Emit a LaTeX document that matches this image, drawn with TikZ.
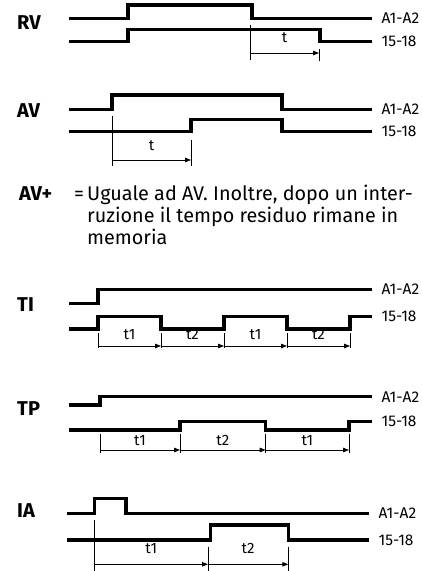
\documentclass[tikz,border=0pt]{standalone}
\usepackage{fontspec}
\setmainfont{Fira Sans}
\usetikzlibrary{arrows.meta}

\tikzset{
    sig/.style={line width=3.2pt},
    tick/.style={line width=0.9pt},
    tarr/.style={line width=0.9pt, -{Triangle[length=6pt,width=4.5pt]}},
    lbl/.style={anchor=west, inner sep=0pt, xshift=8pt, font=\fontsize{15.5}{15.5}\selectfont},
    mode/.style={anchor=base west, inner sep=0pt, font=\fontsize{20}{20}\selectfont\bfseries},
    tlbl/.style={midway, above=4pt, inner sep=0pt, font=\fontsize{15}{15}\selectfont},
    note/.style={anchor=base west, inner sep=0pt, font=\fontsize{19.8}{19.8}\selectfont}
}

\begin{document}
\begin{tikzpicture}[x=1pt, y=-1pt]
    \useasboundingbox (0,0) rectangle (421,571);

    % RV
    \node[mode] (rv) at (17,29) {RV};
    \draw[sig] (69,18.3) -- (128,18.3) -- (128,5) -- (252,5) -- (252,18.3) -- (372,18.3)
        node[lbl] (rva) {A1-A2};
    \draw[sig] (69,41.7) -- (128,41.7) -- (128,29.3) -- (320,29.3) -- (320,41.7) -- (372,41.7)
        node[lbl] (rvb) {15-18};
    \coordinate (rv0) at (250,53);
    \coordinate (rv1) at (319,53);
    \draw[tick] (250,25) -- (250,60);
    \draw[tick] (319,49) -- (319,61);
    \draw[tarr] (rv0) -- (rv1) node[tlbl, above=6pt] (rvt) {t};

    % AV
    \node[mode] (av) at (17,117) {AV};
    \draw[sig] (69,109.3) -- (112,109.3) -- (112,95) -- (282,95) -- (282,109.3) -- (372,109.3)
        node[lbl] (ava) {A1-A2};
    \draw[sig] (69,131.7) -- (191,131.7) -- (191,119.3) -- (282,119.3) -- (282,131.7) -- (372,131.7)
        node[lbl] (avb) {15-18};
    \coordinate (av0) at (112,160);
    \coordinate (av1) at (191,160);
    \draw[tick] (112,116) -- (112,166);
    \draw[tick] (191,140) -- (191,166);
    \draw[tarr] (av0) -- (av1) node[tlbl, above=5pt] (avt) {t};

    % AV+
    \node[mode] (avp) at (19,200.5) {AV+};
    \node[note] (eq) at (74,200.5) {=};
    \node[note] (avtx1) at (87,200.5) {Uguale ad AV. Inoltre, dopo un inter-};
    \node[note] (avtx2) at (87,222.7) {ruzione il tempo residuo rimane in};
    \node[note] (avtx3) at (87,244.5) {memoria};

    % TI
    \node[mode] (ti) at (17,311) {TI};
    \draw[sig] (69,303.3) -- (98,303.3) -- (98,289.3) -- (372,289.3)
        node[lbl] (tia) {A1-A2};
    \draw[sig] (69,329) -- (98,329) -- (98,316.7) -- (161,316.7) -- (161,329) -- (224,329)
        -- (224,316.7) -- (287,316.7) -- (287,329) -- (350,329) -- (350,316.7) -- (372,316.7)
        node[lbl] (tib) {15-18};
    \foreach \n/\x in {0/98,1/161,2/224,3/287,4/350} {
        \coordinate (ti\n) at (\x,346);
        \draw[tick] (\x,333) -- (\x,348);
    }
    \foreach \a/\b/\t in {0/1/t1,1/2/t2,2/3/t1,3/4/t2}
        \draw[tarr] (ti\a) -- (ti\b) node[tlbl, above=2pt] (tit\a) {\t};

    % TP
    \node[mode] (tp) at (17,415) {TP};
    \draw[sig] (69,405) -- (100,405) -- (100,396.7) -- (372,396.7)
        node[lbl] (tpa) {A1-A2};
    \draw[sig] (69,430) -- (180,430) -- (180,421.7) -- (265.7,421.7) -- (265.7,430)
        -- (349,430) -- (349,421.7) -- (372,421.7)
        node[lbl] (tpb) {15-18};
    \foreach \n/\x in {0/100,1/180,2/265.7,3/349} {
        \coordinate (tp\n) at (\x,450);
        \draw[tick] (\x,434) -- (\x,452.7);
    }
    \foreach \a/\b/\t in {0/1/t1,1/2/t2,2/3/t1}
        \draw[tarr] (tp\a) -- (tp\b) node[tlbl] (tpt\a) {\t};

    % IA
    \node[mode] (ia) at (17,517) {IA};
    \draw[sig] (67,513.3) -- (94.5,513.3) -- (94.5,498.3) -- (126,498.3) -- (126,513.3) -- (369,513.3)
        node[lbl] (iaa) {A1-A2};
    \draw[sig] (67,540) -- (210.7,540) -- (210.7,525) -- (288.3,525) -- (288.3,540) -- (369,540)
        node[lbl] (iab) {15-18};
    \coordinate (ia0) at (94.5,564.3);
    \coordinate (ia1) at (208,564.3);
    \coordinate (ia2) at (288.3,564.3);
    \draw[tick] (94.5,520) -- (94.5,571);
    \draw[tick] (208,547) -- (208,571);
    \draw[tick] (288.3,547) -- (288.3,571);
    \draw[tarr] (ia0) -- (ia1) node[tlbl, above=6pt] (iat1) {t1};
    \draw[tarr] (ia1) -- (ia2) node[tlbl, above=6pt] (iat2) {t2};
\end{tikzpicture}
\end{document}
